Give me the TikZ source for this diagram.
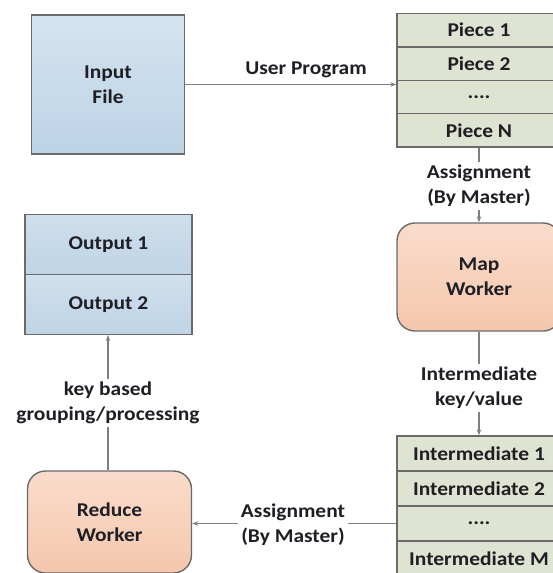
\documentclass[tikz,border=0pt]{standalone}
\usepackage{fontspec}
\setmainfont{Carlito}[FakeStretch=1.1]
\usetikzlibrary{arrows.meta}
\definecolor{bordc}{HTML}{6A6A6A}
\definecolor{linec}{HTML}{7F7F7F}
\definecolor{txtc}{HTML}{1E1E24}
\definecolor{bluetop}{HTML}{D5E4F0}
\definecolor{bluebot}{HTML}{BCD3E6}
\definecolor{outtop}{HTML}{CFDFEC}
\definecolor{outbot}{HTML}{BFD4E6}
\definecolor{greenc}{HTML}{DEE4D1}
\definecolor{peachtop}{HTML}{FADCCB}
\definecolor{peachbot}{HTML}{F4C7AD}
\tikzset{
  boxbase/.style={draw=bordc, line width=1.4pt, text=txtc, align=center, inner sep=0pt},
  bluebox/.style={boxbase, top color=bluetop, bottom color=bluebot},
  outcell/.style={boxbase, top color=outtop, bottom color=outbot, minimum width=167pt, minimum height=59.5pt},
  greencell/.style={boxbase, fill=greenc, minimum width=164pt},
  workerbox/.style={boxbase, rounded corners=18pt, top color=peachtop, bottom color=peachbot},
  lbl/.style={text=txtc, align=center, inner sep=3pt},
  conn/.style={draw=linec, line width=1.2pt},
  arr/.style={conn, -{Stealth[length=6pt, width=4.5pt]}}
}
\begin{document}
\begin{tikzpicture}[x=1pt, y=-1pt, font=\fontsize{19.5}{25}\selectfont\bfseries]
\useasboundingbox (0,0) rectangle (553,573);
% input
\node[bluebox, minimum width=152.5pt, minimum height=139pt] (input) at (108,84.5) {Input\\File};
% pieces
\node[greencell, minimum height=33.4pt] (p1) at (479,30.2) {Piece 1};
\node[greencell, minimum height=33.4pt] (p2) at (479,63.6) {Piece 2};
\node[greencell, minimum height=33.4pt] (p3) at (479,97) {....};
\node[greencell, minimum height=33.4pt] (p4) at (479,130.4) {Piece N};
% map worker
\node[workerbox, minimum width=164pt, minimum height=108pt] (map) at (479,277) {Map\\Worker};
% intermediate
\node[greencell, minimum height=35pt] (i1) at (479,453.5) {Intermediate 1};
\node[greencell, minimum height=35pt] (i2) at (479,488.5) {Intermediate 2};
\node[greencell, minimum height=35pt] (i3) at (479,523.5) {....};
\node[greencell, minimum height=35pt] (i4) at (479,558.5) {Intermediate M};
% outputs
\node[outcell] (o1) at (108.5,244.5) {Output 1};
\node[outcell] (o2) at (108.5,304.5) {Output 2};
% reduce worker
\node[workerbox, minimum width=164pt, minimum height=102pt] (reduce) at (109.5,522) {Reduce\\Worker};
% labels
\node[lbl] (up) at (306,70) {User Program};
\node[lbl] (la1) at (479,186) {Assignment\\(By Master)};
\node[lbl] (la2) at (479,388) {Intermediate\\key/value};
\node[lbl] (la3) at (293,525) {Assignment\\(By Master)};
\node[lbl] (la4) at (108,403) {key based\\grouping/processing};
% connectors
\draw[arr] (input.east) -- (input.east -| p3.west);
\draw[conn] (p4.south) -- (la1);
\draw[arr] (la1) -- (map.north);
\draw[conn] (map.south) -- (la2);
\draw[arr] (la2) -- (i1.north);
\draw[conn] (i3.west) -- (la3.east |- i3.west);
\draw[arr] (la3.west |- i3.west) -- (i3.west -| reduce.east);
\draw[conn] (reduce.north -| la4) -- (la4);
\draw[arr] (la4) -- (o2.south -| la4);
\end{tikzpicture}
\end{document}
